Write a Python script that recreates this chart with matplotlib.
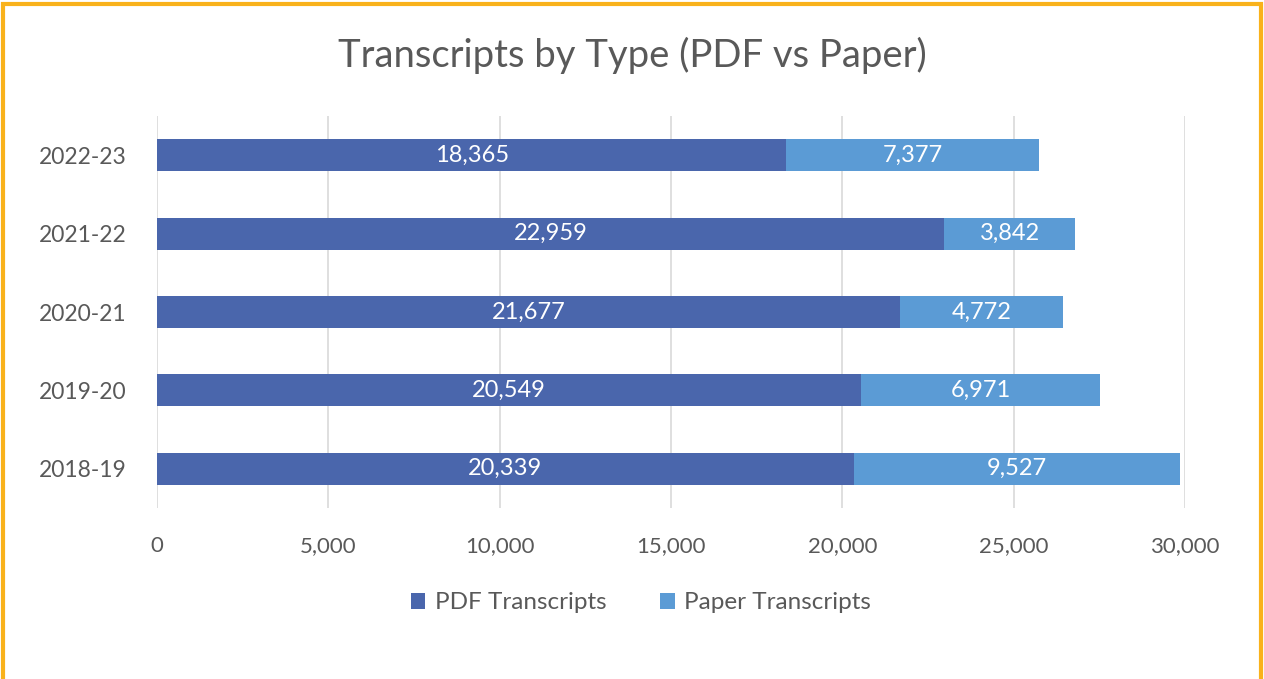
import matplotlib
matplotlib.use("Agg")
import matplotlib.pyplot as plt
from matplotlib.patches import Rectangle

years = ["2018-19", "2019-20", "2020-21", "2021-22", "2022-23"]
pdf = [20339, 20549, 21677, 22959, 18365]
paper = [9527, 6971, 4772, 3842, 7377]
xticks = [0, 5000, 10000, 15000, 20000, 25000, 30000]

plt.rcParams['font.family'] = ['Lato', 'DejaVu Sans']
fig = plt.figure(figsize=(12.64, 6.79), dpi=100)
ax = fig.add_axes([0.1242, 0.252, 0.8133, 0.577])

c_pdf = "#4A66AC"
c_paper = "#5B9BD5"
txt = "#595959"

ypos = range(len(years))
b1 = ax.barh(ypos, pdf, height=0.41, color=c_pdf, label="PDF Transcripts", zorder=3)
b2 = ax.barh(ypos, paper, left=pdf, height=0.41, color=c_paper, label="Paper Transcripts", zorder=3)
for bars in (b1, b2):
    ax.bar_label(bars, labels=[f"{int(b.get_width()):,}" for b in bars],
                 label_type='center', color='white', fontsize=17)

ax.set_ylim(-0.5, 4.5)
ax.set_xlim(0, 30000)
ax.set_yticks(list(ypos))
ax.set_yticklabels(years, fontsize=16.5, color=txt)
ax.set_xticks(xticks)
ax.set_xticklabels([f"{v:,}" for v in xticks], fontsize=16, color=txt)
ax.tick_params(length=0, pad=20, axis='x')
ax.tick_params(length=0, pad=22, axis='y')
ax.grid(axis='x', color='#D9D9D9', linewidth=1.2, zorder=0)
for s in ax.spines.values():
    s.set_visible(False)

fig.text(0.5, 0.918, "Transcripts by Type (PDF vs Paper)", ha='center', va='center',
         fontsize=27.5, color=txt)
fig.legend(handles=[b1, b2], loc='center', bbox_to_anchor=(0.507, 0.112), ncol=2,
           frameon=False, fontsize=17.5, labelcolor=txt, handlelength=0.6,
           handleheight=0.6, handletextpad=0.4, columnspacing=2.2)

fig.patches.append(Rectangle((0.002, -0.01), 0.996, 1.004, transform=fig.transFigure,
                             fill=False, edgecolor='#F9B21B', linewidth=3))
fig.savefig("out.png", dpi=100)
